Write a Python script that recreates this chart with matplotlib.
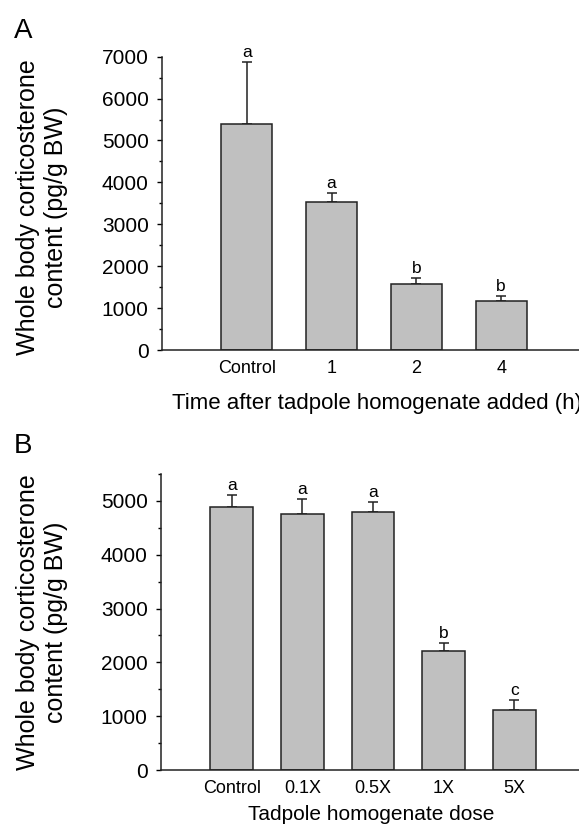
import numpy as np
import matplotlib
matplotlib.use('Agg')
import matplotlib.pyplot as plt
from matplotlib.ticker import MultipleLocator

plt.rcParams['font.family'] = ['Liberation Sans', 'DejaVu Sans']

# 데이터
time_labels = ['Control', '1', '2', '4']
time_means = [5387, 3525, 1568, 1162]
time_tops = [6874, 3754, 1726, 1296]
time_letters = ['a', 'a', 'b', 'b']

dose_labels = ['Control', '0.1X', '0.5X', '1X', '5X']
dose_means = [4883, 4758, 4790, 2212, 1110]
dose_tops = [5111, 5031, 4976, 2354, 1301]
dose_letters = ['a', 'a', 'a', 'b', 'c']

W, H = 579, 826
fig = plt.figure(figsize=(W / 100, H / 100), dpi=100)


def panel(rect, labels, means, tops, letters, ymax, xlabel, xlab_size, xlab_x, xlab_y):
    ax = fig.add_axes(rect)
    x = np.arange(1, len(labels) + 1)
    err = np.array(tops) - np.array(means)
    ax.bar(x, means, width=0.6, color='#c0c0c0', edgecolor='#222222', linewidth=1.1, zorder=2)
    ax.errorbar(x, means, yerr=[np.zeros(len(x)), err], fmt='none', ecolor='#222222',
                elinewidth=1.1, capsize=3.5, capthick=1.1, zorder=1)
    for xi, t, l in zip(x, tops, letters):
        ax.annotate(l, (xi, t), xytext=(0, 3.5), textcoords='offset points',
                    ha='center', va='baseline', fontsize=12.5)
    ax.set_xlim(0, len(labels) + 1)
    ax.set_ylim(0, ymax)
    ax.set_xticks(x)
    ax.set_xticklabels(labels, fontsize=13)
    ax.yaxis.set_major_locator(MultipleLocator(1000))
    ax.yaxis.set_minor_locator(MultipleLocator(500))
    ax.tick_params(axis='x', length=0, pad=7)
    ax.tick_params(axis='y', which='major', length=3.6, width=1, direction='out', labelsize=15, pad=6)
    ax.tick_params(axis='y', which='minor', length=2.2, width=1, direction='out')
    for s in ['top', 'right']:
        ax.spines[s].set_visible(False)
    for s in ['left', 'bottom']:
        ax.spines[s].set_linewidth(1.1)
        ax.spines[s].set_color('#222222')
    fig.text(xlab_x / W, 1 - xlab_y / H, xlabel, ha='center', va='center', fontsize=xlab_size)
    return ax


# 패널 A (원본에서도 x축 제목 오른쪽 끝이 잘려 있음)
axA = panel([162 / W, 1 - 350 / H, 424 / W, 293.3 / H], time_labels, time_means, time_tops,
            time_letters, 7000, 'Time after tadpole homogenate added (h)', 16, 377, 403)
# 패널 B
axB = panel([161 / W, 1 - 770 / H, 424 / W, 296 / H], dose_labels, dose_means, dose_tops,
            dose_letters, 5500, 'Tadpole homogenate dose', 15, 371, 815)

ylab = 'Whole body corticosterone\ncontent (pg/g BW)'
fig.text(42 / W, 1 - 207 / H, ylab, rotation=90, ha='center', va='center',
         multialignment='center', fontsize=18, linespacing=1.25)
fig.text(42 / W, 1 - 622 / H, ylab, rotation=90, ha='center', va='center',
         multialignment='center', fontsize=18, linespacing=1.25)

fig.text(14 / W, 1 - 38 / H, 'A', fontsize=20, ha='left', va='baseline')
fig.text(14 / W, 1 - 453 / H, 'B', fontsize=20, ha='left', va='baseline')

fig.savefig('out.png', dpi=100)
